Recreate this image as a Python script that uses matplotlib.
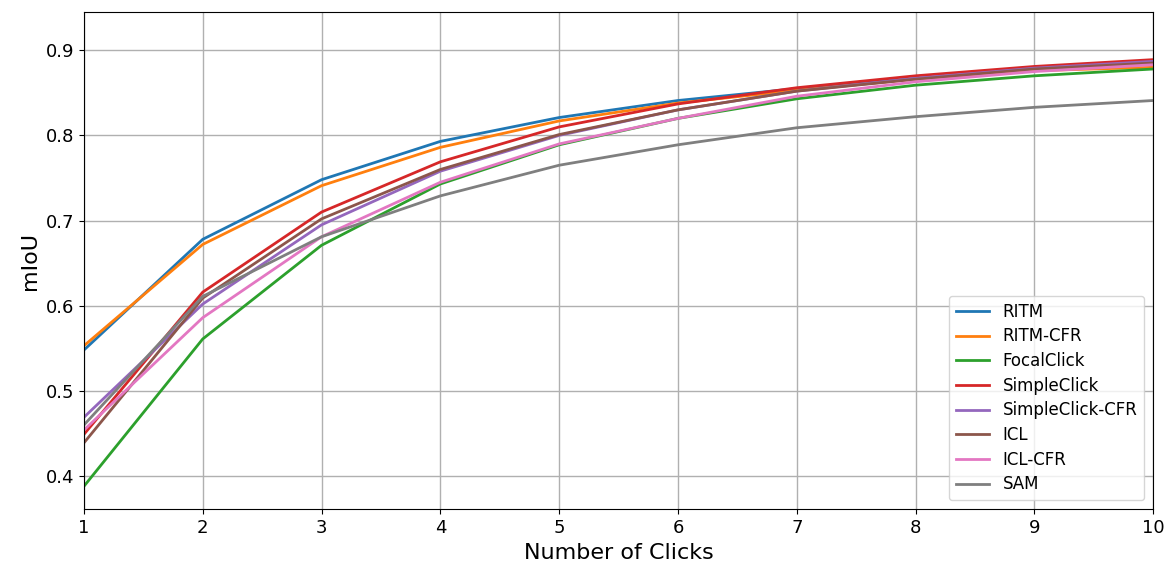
import matplotlib
matplotlib.use("Agg")
import matplotlib.pyplot as plt

clicks = list(range(1, 11))

ritm = [0.548, 0.678, 0.748, 0.793, 0.821, 0.841, 0.855, 0.867, 0.878, 0.886]
ritm_cfr = [0.553, 0.672, 0.741, 0.786, 0.817, 0.838, 0.853, 0.866, 0.876, 0.880]
focalclick = [0.388, 0.561, 0.671, 0.743, 0.789, 0.820, 0.843, 0.859, 0.870, 0.878]
simpleclick = [0.449, 0.616, 0.710, 0.769, 0.810, 0.837, 0.856, 0.870, 0.881, 0.889]
simpleclick_cfr = [0.469, 0.602, 0.695, 0.758, 0.800, 0.830, 0.852, 0.867, 0.879, 0.887]
icl = [0.439, 0.609, 0.702, 0.760, 0.801, 0.830, 0.852, 0.866, 0.878, 0.885]
icl_cfr = [0.454, 0.586, 0.681, 0.745, 0.790, 0.820, 0.846, 0.863, 0.875, 0.883]
sam = [0.460, 0.611, 0.681, 0.729, 0.765, 0.789, 0.809, 0.822, 0.833, 0.841]

series = [
    ("RITM", ritm),
    ("RITM-CFR", ritm_cfr),
    ("FocalClick", focalclick),
    ("SimpleClick", simpleclick),
    ("SimpleClick-CFR", simpleclick_cfr),
    ("ICL", icl),
    ("ICL-CFR", icl_cfr),
    ("SAM", sam),
]

fig = plt.figure(figsize=(11.66, 5.69), dpi=100)
ax = fig.add_axes([0.072, 0.105, 0.917, 0.874])

for name, vals in series:
    ax.plot(clicks, vals, label=name, linewidth=2)

ax.set_xlim(1, 10)
ax.set_ylim(0.361, 0.945)
ax.set_xticks(clicks)
ax.set_yticks([0.4, 0.5, 0.6, 0.7, 0.8, 0.9])
ax.tick_params(labelsize=13)
ax.grid(True, color="#b0b0b0", linewidth=1)
ax.set_xlabel("Number of Clicks", fontsize=16)
ax.set_ylabel("mIoU", fontsize=16)
ax.legend(loc="lower right", fontsize=12, borderaxespad=0.55, labelspacing=0.4)

fig.savefig("out.png", dpi=100)
